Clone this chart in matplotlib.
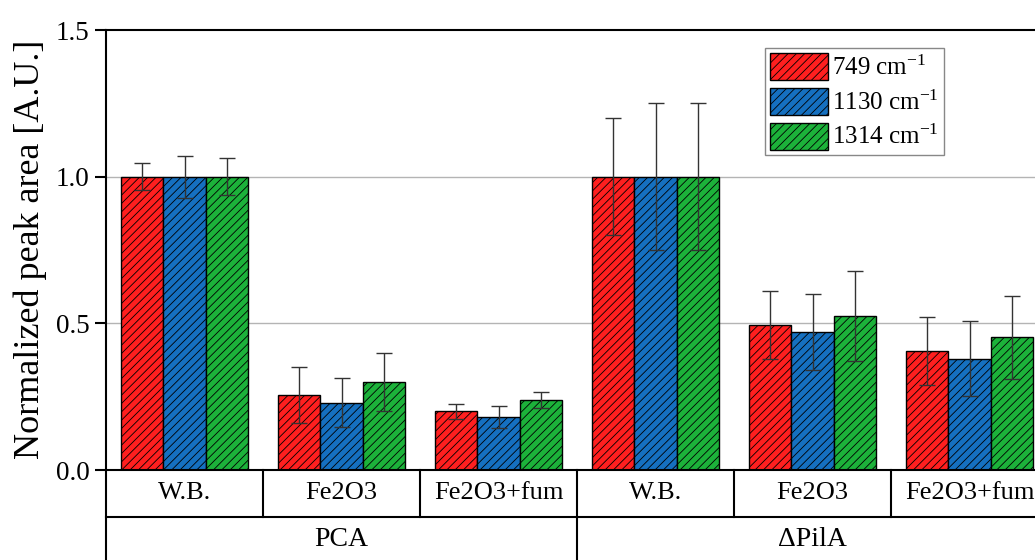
import matplotlib
matplotlib.use("Agg")
import matplotlib.pyplot as plt
import numpy as np

plt.rcParams['font.family'] = ['Liberation Serif', 'DejaVu Serif']
plt.rcParams['mathtext.fontset'] = 'custom'
plt.rcParams['mathtext.rm'] = 'Liberation Serif'
plt.rcParams['mathtext.it'] = 'Liberation Serif:italic'
plt.rcParams['hatch.linewidth'] = 0.6

# ---- data ----
conditions = ["W.B.", "Fe2O3", "Fe2O3+fum", "W.B.", "Fe2O3", "Fe2O3+fum"]
strains = ["PCA", "\u0394PilA"]
series_labels = ["749 cm$^{-1}$", "1130 cm$^{-1}$", "1314 cm$^{-1}$"]
val_749 = [1.0, 0.255, 0.20, 1.0, 0.495, 0.405]
val_1130 = [1.0, 0.23, 0.18, 1.0, 0.47, 0.38]
val_1314 = [1.0, 0.30, 0.24, 1.0, 0.525, 0.452]
err_749 = [0.045, 0.095, 0.025, 0.20, 0.115, 0.115]
err_1130 = [0.072, 0.085, 0.037, 0.25, 0.13, 0.128]
err_1314 = [0.062, 0.10, 0.027, 0.25, 0.155, 0.142]
yticks = [0.0, 0.5, 1.0, 1.5]

colors = ["#ff1f1f", "#1570c0", "#1cb23a"]

fig = plt.figure(figsize=(10.35, 5.6), dpi=100)
ax = fig.add_axes([106/1035, 1 - 470/560, 942/1035, 440/560])

x = np.arange(len(conditions))
w = 0.268
vals = [val_749, val_1130, val_1314]
errs = [err_749, err_1130, err_1314]
for i, (v, e, c, lab) in enumerate(zip(vals, errs, colors, series_labels)):
    ax.bar(x + (i - 1) * w, v, width=w, color=c, edgecolor='black', linewidth=1.0,
           hatch='////', label=lab, zorder=2)
    ax.errorbar(x + (i - 1) * w, v, yerr=e, fmt='none', ecolor='#333333',
                elinewidth=1.0, capsize=6, capthick=1.0, zorder=3)

ax.set_xlim(-0.5, len(conditions) - 0.5)
ax.set_ylim(0, 1.5)
ax.set_yticks(yticks)
ax.set_yticklabels([f"{t:.1f}" for t in yticks], fontsize=19.5)
ax.set_xticks([])
ax.tick_params(axis='y', direction='out', length=8, width=1.5, pad=4)
for y in [0.5, 1.0]:
    ax.axhline(y, color='#b4b4b4', linewidth=1.0, zorder=1)

for s in ['left', 'bottom', 'top']:
    ax.spines[s].set_linewidth(1.5)
ax.spines['right'].set_visible(False)

# table below axis
tr = ax.get_xaxis_transform()
r1 = -47/440
r2 = -0.25
ax.plot([-0.5, len(conditions) - 0.5], [r1, r1], color='black', lw=1.5, transform=tr, clip_on=False)
ax.plot([-0.5, -0.5], [0, r2], color='black', lw=1.5, transform=tr, clip_on=False)
for b in np.arange(0.5, len(conditions) - 0.5, 1.0):
    ax.plot([b, b], [0, r1], color='black', lw=1.5, transform=tr, clip_on=False)
ax.plot([2.5, 2.5], [r1, r2], color='black', lw=1.5, transform=tr, clip_on=False)
for xi, lab in zip(x, conditions):
    ax.text(xi, -23/440, lab, transform=tr, ha='center', va='center', fontsize=19)
for k, lab in enumerate(strains):
    ax.text(1 + 3 * k, -70/440, lab, transform=tr, ha='center', va='center', fontsize=20)

fig.text(30/1035, 1 - 249/560, "Normalized peak area [A.U.]", rotation=90,
         ha='center', va='center', fontsize=26)

leg = ax.legend(loc='upper left', bbox_to_anchor=(765/1035, 1 - 48/560),
                bbox_transform=fig.transFigure, fontsize=18, frameon=True,
                fancybox=False, edgecolor='#888888', framealpha=1,
                handlelength=2.3, handleheight=1.3, labelspacing=0.3,
                handletextpad=0.2, borderpad=0.2, borderaxespad=0)
leg.get_frame().set_linewidth(1.0)

fig.savefig("out.png", dpi=100)
